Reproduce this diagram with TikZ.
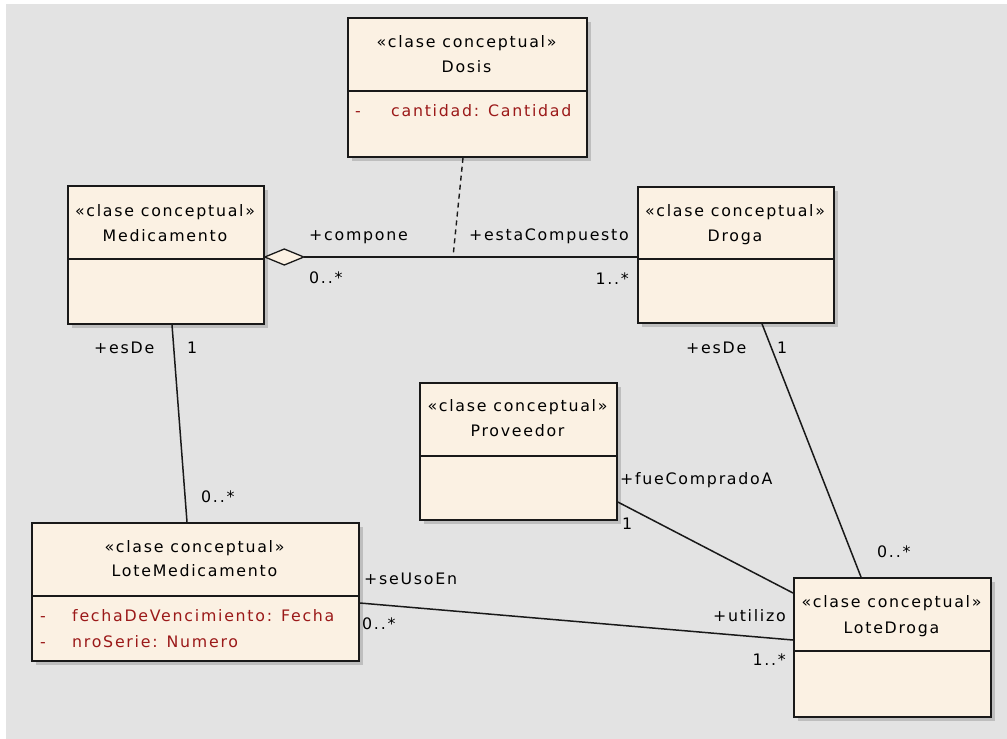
\documentclass[tikz,border=0pt]{standalone}
\usepackage{fontspec}
\setmainfont{DejaVu Sans}[LetterSpace=11]
\usetikzlibrary{calc}
\definecolor{bgcol}{RGB}{227,227,227}
\definecolor{boxfill}{RGB}{251,241,227}
\definecolor{shadowcol}{RGB}{190,190,190}
\definecolor{attrred}{RGB}{155,25,25}
\definecolor{linecol}{RGB}{25,25,25}
\tikzset{
  classbox/.style={draw=linecol, line width=1.8pt, fill=boxfill, inner sep=0pt, anchor=north west},
  divline/.style={draw=linecol, line width=1.5pt},
  txt/.style={font=\fontsize{15.8}{17}\selectfont, inner sep=0pt, text=black, text height=11.5pt, text depth=3.5pt},
  attr/.style={txt, text=attrred, anchor=west},
  conn/.style={draw=linecol, line width=1.5pt},
  dotconn/.style={draw=linecol, line width=1.4pt, dash pattern=on 5pt off 4pt},
}
\newcommand\umlklass[6]{%
  \fill[shadowcol] ({#2+5},{#3+5}) rectangle ({#4+5},{#5+5});
  \node[classbox, minimum width={(#4-#2)*1pt}, minimum height={(#5-#3)*1pt}] (#1) at (#2,#3) {};
  \draw[divline] (#1.west |- 0,#6) -- (#1.east |- 0,#6);
}
\begin{document}
\begin{tikzpicture}[x=1pt,y=-1pt]
\useasboundingbox (0,0) rectangle (1007,739);
\fill[white] (0,0) rectangle (1007,739);
\fill[bgcol] (6,4) rectangle (1007,739);

% classes
\umlklass{dosis}{347}{17}{586}{156}{91}
\umlklass{med}{67}{185}{263}{323}{259}
\umlklass{droga}{637}{186}{833}{322}{259}
\umlklass{prov}{419}{382}{616}{519}{456}
\umlklass{lmed}{31}{522}{358}{660}{596}
\umlklass{ldroga}{793}{577}{990}{716}{651}

% class texts
\node[txt] (dosis-s) at (466.5,43) {«clase conceptual»};
\node[txt] (dosis-n) at (466.5,68) {Dosis};
\node[attr] (dosis-a0) at (355,112) {-};
\node[attr] (dosis-a1) at (391,112) {cantidad: Cantidad};

\node[txt] (med-s) at (165,212) {«clase conceptual»};
\node[txt] (med-n) at (165,237) {Medicamento};

\node[txt] (droga-s) at (735,212) {«clase conceptual»};
\node[txt] (droga-n) at (735,237) {Droga};

\node[txt] (prov-s) at (517.5,407) {«clase conceptual»};
\node[txt] (prov-n) at (517.5,432) {Proveedor};

\node[txt] (lmed-s) at (194.5,548) {«clase conceptual»};
\node[txt] (lmed-n) at (194.5,572) {LoteMedicamento};
\node[attr] (lmed-a0) at (40,617) {-};
\node[attr] (lmed-a1) at (72,617) {fechaDeVencimiento: Fecha};
\node[attr] (lmed-b0) at (40,643) {-};
\node[attr] (lmed-b1) at (72,643) {nroSerie: Numero};

\node[txt] (ldroga-s) at (891.5,603) {«clase conceptual»};
\node[txt] (ldroga-n) at (891.5,629) {LoteDroga};

% aggregation Medicamento - Droga
\coordinate (aggL) at (med.east |- 0,257);
\coordinate (aggT) at ($(aggL)+(39,0)$);
\coordinate (aggR) at (droga.west |- 0,257);
\filldraw[conn, fill=boxfill, line width=1.3pt] (aggL) -- ++(19.5,-8) -- (aggT) -- ++(-19.5,8) -- cycle;
\draw[conn] (aggT) -- (aggR);
\coordinate (assocMid) at (453,257);
\draw[dotconn] (dosis.south -| 463,0) -- (assocMid);

% other associations
\draw[conn] (med.south -| 172,0) -- (lmed.north -| 187,0);
\draw[conn] (droga.south -| 762,0) -- (ldroga.north -| 861,0);
\draw[conn] (prov.east |- 0,502) -- (ldroga.west |- 0,593);
\draw[conn] (lmed.east |- 0,603) -- (ldroga.west |- 0,640);

% role and multiplicity labels
\node[txt, anchor=west] (l-compone) at (309,236) {+compone};
\node[txt, anchor=west] (l-m1) at (309,279) {0..*};
\node[txt, anchor=east] (l-esta) at (629,236) {+estaCompuesto};
\node[txt, anchor=east] (l-m2) at (629,280) {1..*};

\node[txt, anchor=west] (l-esde1) at (94,349) {+esDe};
\node[txt, anchor=west] (l-one1) at (187,349) {1};
\node[txt, anchor=west] (l-m3) at (201,498) {0..*};

\node[txt, anchor=west] (l-esde2) at (686,349) {+esDe};
\node[txt, anchor=west] (l-one2) at (777,349) {1};
\node[txt, anchor=west] (l-m4) at (877,553) {0..*};

\node[txt, anchor=west] (l-fue) at (620,480) {+fueCompradoA};
\node[txt, anchor=west] (l-one3) at (622,525) {1};

\node[txt, anchor=west] (l-seuso) at (364,580) {+seUsoEn};
\node[txt, anchor=west] (l-m5) at (362,625) {0..*};
\node[txt, anchor=east] (l-utilizo) at (786,617) {+utilizo};
\node[txt, anchor=east] (l-m6) at (786,661) {1..*};
\end{tikzpicture}
\end{document}
